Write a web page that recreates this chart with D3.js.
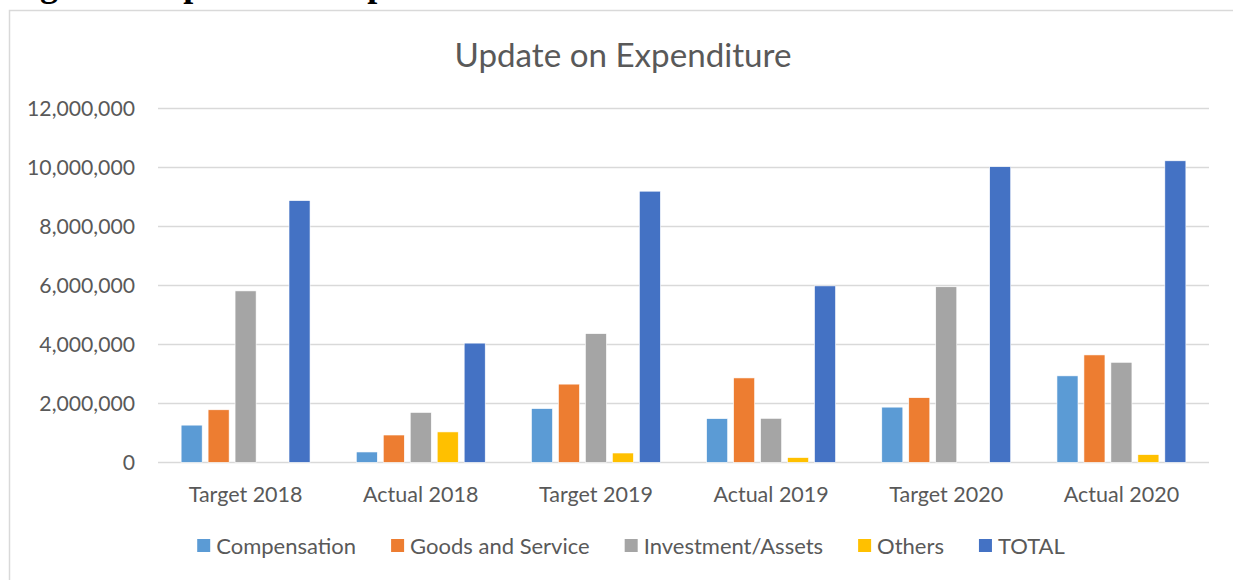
<!DOCTYPE html>
<html>
<head>
<meta charset="utf-8">
<script src="https://cdn.jsdelivr.net/npm/d3@7"></script>
<style>
  html, body { margin: 0; padding: 0; background: #fff; overflow: hidden; }
  svg { display: block; }
</style>
</head>
<body>
<svg id="chart" width="1233" height="580"></svg>
<script>
const categories = ["Target 2018", "Actual 2018", "Target 2019", "Actual 2019", "Target 2020", "Actual 2020"];
const seriesNames = ["Compensation", "Goods and Service", "Investment/Assets", "Others", "TOTAL"];
const compensation = [1260000, 350000, 1820000, 1480000, 1870000, 2930000];
const goodsAndService = [1780000, 925000, 2650000, 2860000, 2190000, 3640000];
const investmentAssets = [5810000, 1690000, 4360000, 1490000, 5950000, 3390000];
const others = [0, 1030000, 315000, 160000, 0, 260000];
const total = [8870000, 4040000, 9190000, 5980000, 10020000, 10220000];
const yTicks = [0, 2000000, 4000000, 6000000, 8000000, 10000000, 12000000];
const colors = ["#5B9BD5", "#ED7D31", "#A5A5A5", "#FFC000", "#4472C4"];

(function () {
const seriesValues = [compensation, goodsAndService, investmentAssets, others, total];
const svg = d3.select("#chart");
const FONT = "Lato, 'Open Sans', sans-serif";
const TXT = "#595959";

function fitSize(text, targetW, family, weight) {
  const t = svg.append("text").attr("font-family", family).attr("font-size", 20)
    .attr("font-weight", weight || "normal").text(text);
  const w = t.node().getComputedTextLength();
  t.remove();
  return 20 * targetW / w;
}

// page header (clipped at top)
svg.append("text").attr("x", 8).attr("y", -4)
  .attr("font-family", "'Liberation Serif', 'Times New Roman', serif")
  .attr("font-weight", "bold").attr("font-size", 36).attr("fill", "#000")
  .text("Figure 4: Update on Expenditure");

// chart frame
svg.append("rect").attr("x", 9.5).attr("y", 10.5).attr("width", 1400).attr("height", 700)
  .attr("fill", "#fff").attr("stroke", "#d9d9d9").attr("stroke-width", 1.5);

const pLeft = 158, pRight = 1209, pTop = 108.3, pBottom = 462.3;
const y = d3.scaleLinear().domain([0, 12000000]).range([pBottom, pTop]);
const x0 = d3.scaleBand().domain(categories).range([pLeft, pRight]).paddingInner(0.264).paddingOuter(0.132);
const x1 = d3.scaleBand().domain(seriesNames).range([0, x0.bandwidth()]).paddingInner(0.22).paddingOuter(0);

// title
const titleSize = fitSize("Update on Expenditure", 337, FONT);
svg.append("text").attr("x", 623).attr("y", 66.5).attr("text-anchor", "middle")
  .attr("font-family", FONT).attr("font-size", titleSize).attr("fill", TXT)
  .text("Update on Expenditure");

// gridlines
svg.append("g").selectAll("line").data(yTicks).join("line")
  .attr("x1", pLeft).attr("x2", pRight)
  .attr("y1", d => Math.round(y(d)) + 0.5).attr("y2", d => Math.round(y(d)) + 0.5)
  .attr("stroke", "#d9d9d9").attr("stroke-width", 1.3);

// y axis labels
const fmt = d3.format(",");
const tickSize = fitSize("12,000,000", 108, FONT);
const yAxis = d3.axisLeft(y).tickValues(yTicks).tickFormat(d => fmt(d)).tickSize(0).tickPadding(0);
const gy = svg.append("g").attr("transform", "translate(135,0)").call(yAxis);
gy.select(".domain").remove();
gy.selectAll("text").attr("font-family", FONT).attr("font-size", tickSize).attr("fill", TXT)
  .attr("dy", "0.36em");

// x axis labels
const catSize = fitSize("Target 2018", 114, FONT);
const xAxis = d3.axisBottom(x0).tickSize(0).tickPadding(0);
const gx = svg.append("g").attr("transform", `translate(0,${pBottom})`).call(xAxis);
gx.select(".domain").remove();
gx.selectAll("text").attr("font-family", FONT).attr("font-size", catSize).attr("fill", TXT)
  .attr("dy", 0).attr("y", 39.4);

// bars
const data = [];
categories.forEach((c, i) => {
  seriesNames.forEach((s, j) => data.push({ cat: c, series: s, value: seriesValues[j][i], color: colors[j] }));
});
svg.append("g").selectAll("rect").data(data.filter(d => d.value > 0)).join("rect")
  .attr("x", d => x0(d.cat) + x1(d.series))
  .attr("width", x1.bandwidth())
  .attr("y", d => y(d.value))
  .attr("height", d => y(0) - y(d.value))
  .attr("fill", d => d.color)
  .attr("stroke", "#fff").attr("stroke-width", 0.6);

// legend
const legSize = fitSize("Compensation", 140, FONT);
const leg = svg.append("g");
let lx = 0;
seriesNames.forEach((s, j) => {
  const g = leg.append("g").attr("transform", `translate(${lx},0)`);
  g.append("rect").attr("x", 0).attr("y", -7).attr("width", 13).attr("height", 13).attr("fill", colors[j]);
  const t = g.append("text").attr("x", 19).attr("y", 0).attr("dy", "0.36em")
    .attr("font-family", FONT).attr("font-size", legSize).attr("fill", TXT).text(s);
  const w = t.node().getComputedTextLength();
  lx += 19 + w + 35;
});
const legW = lx - 35;
leg.attr("transform", `translate(${631 - legW / 2},546)`);
})();
</script>
</body>
</html>
